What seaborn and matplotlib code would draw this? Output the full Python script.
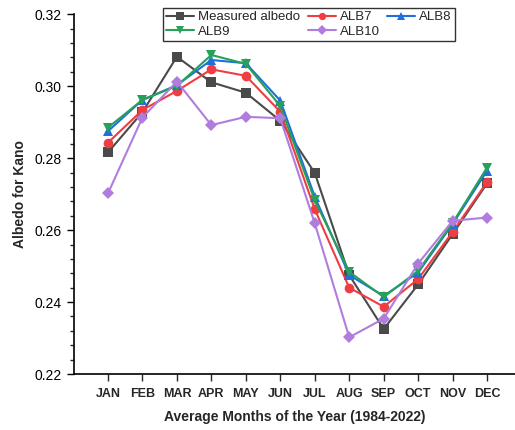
import matplotlib
matplotlib.use("Agg")
import matplotlib.pyplot as plt
import seaborn as sns
import pandas as pd
from matplotlib.ticker import MultipleLocator

months = ["JAN", "FEB", "MAR", "APR", "MAY", "JUN", "JUL", "AUG", "SEP", "OCT", "NOV", "DEC"]
measured = [0.2816, 0.2928, 0.3082, 0.3011, 0.2982, 0.2904, 0.2759, 0.2475, 0.2325, 0.2449, 0.2589, 0.2730]
alb7 = [0.2843, 0.2934, 0.2987, 0.3047, 0.3029, 0.2929, 0.2658, 0.2440, 0.2387, 0.2464, 0.2595, 0.2734]
alb8 = [0.2875, 0.2962, 0.3003, 0.3073, 0.3064, 0.2960, 0.2693, 0.2475, 0.2417, 0.2482, 0.2617, 0.2765]
alb9 = [0.2885, 0.2962, 0.3001, 0.3087, 0.3062, 0.2945, 0.2683, 0.2484, 0.2414, 0.2487, 0.2620, 0.2774]
alb10 = [0.2702, 0.2913, 0.3013, 0.2892, 0.2915, 0.2911, 0.2619, 0.2302, 0.2354, 0.2507, 0.2626, 0.2635]

series = {
    "Measured albedo": measured,
    "ALB7": alb7,
    "ALB8": alb8,
    "ALB9": alb9,
    "ALB10": alb10,
}
colors = {
    "Measured albedo": "#4a4a4a",
    "ALB7": "#ef3e42",
    "ALB8": "#1f6fdc",
    "ALB9": "#27a05a",
    "ALB10": "#b07ddf",
}
markers = {
    "Measured albedo": "s",
    "ALB7": "o",
    "ALB8": "^",
    "ALB9": "v",
    "ALB10": "D",
}

rows = []
for name, vals in series.items():
    for i, v in enumerate(vals):
        rows.append({"x": i + 1, "month": months[i], "value": v, "series": name})
df = pd.DataFrame(rows)

sns.set_style("ticks")
plt.rcParams["font.family"] = ["Liberation Sans", "DejaVu Sans"]

fig = plt.figure(figsize=(5.15, 4.3), dpi=100)
ax = fig.add_axes([73.5 / 515, 1 - 374 / 430, 1 - 73.5 / 515, (374 - 14.3) / 430])

handles = {}
for name in series:
    sub = df[df["series"] == name]
    sns.lineplot(data=sub, x="x", y="value", ax=ax, color=colors[name],
                 marker=markers[name], markersize=7 if markers[name] != "D" else 6.5,
                 markeredgewidth=0, linewidth=1.5, label=name, legend=False)
    handles[name] = ax.lines[-1]

ax.set_xlim(0, 12.81)
ax.set_ylim(0.22, 0.32)
ax.set_xticks(range(1, 13))
ax.set_xticklabels(months, fontweight="bold", fontsize=9)
ax.yaxis.set_major_locator(MultipleLocator(0.02))
ax.yaxis.set_minor_locator(MultipleLocator(0.004))
ax.yaxis.set_major_formatter(plt.FormatStrFormatter("%.2f"))
ax.tick_params(axis="y", labelsize=10, length=5, width=1, direction="out", colors="black")
ax.tick_params(axis="y", which="minor", length=3, width=1)
ax.tick_params(axis="x", length=5, width=1, direction="out", pad=5)
for s in ["top", "right"]:
    ax.spines[s].set_visible(False)
for s in ["left", "bottom"]:
    ax.spines[s].set_linewidth(1.2)
    ax.spines[s].set_color("black")

ax.set_xlabel("Average Months of the Year (1984-2022)", fontweight="bold", fontsize=10, labelpad=7)
ax.set_ylabel("Albedo for Kano", fontweight="bold", fontsize=10, labelpad=5)

order = ["Measured albedo", "ALB9", "ALB7", "ALB10", "ALB8"]
leg = ax.legend([handles[n] for n in order], order, ncol=3, loc="upper left",
                bbox_to_anchor=((163 - 73.5) / (515 - 73.5), 1.018), frameon=True,
                fancybox=False, edgecolor="black", fontsize=9.5, handlelength=2.1,
                handletextpad=0.3, columnspacing=0.6, borderpad=0.25, labelspacing=0.15,
                markerscale=0.75, borderaxespad=0)
leg.get_frame().set_linewidth(1.0)

fig.savefig("out.png", dpi=100)
